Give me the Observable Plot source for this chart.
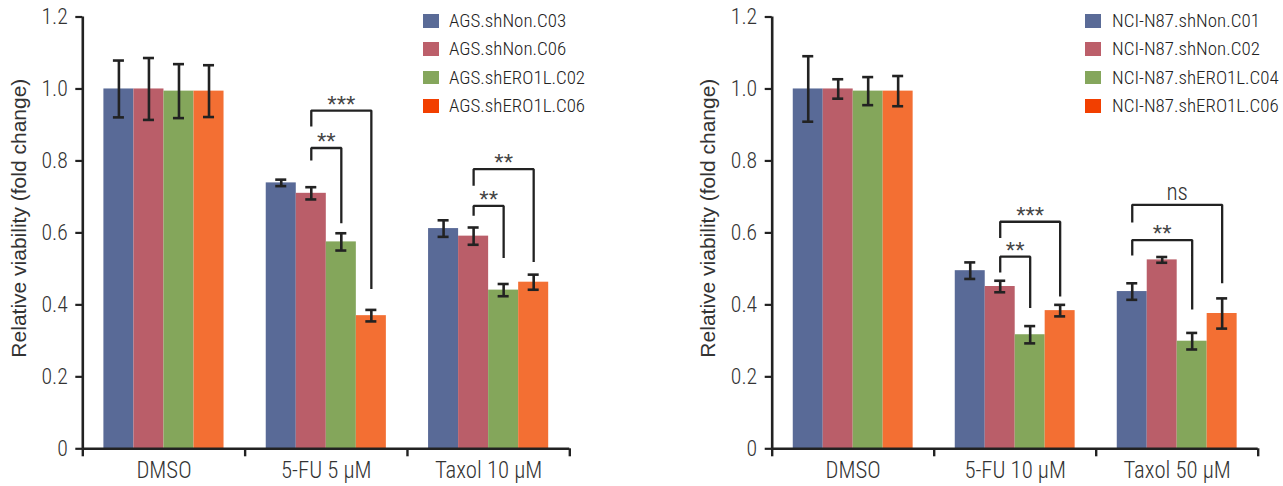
<!DOCTYPE html>
<html>
<head>
<meta charset="utf-8">
<script src="https://cdn.jsdelivr.net/npm/d3@7"></script>
<script src="https://cdn.jsdelivr.net/npm/@observablehq/plot@0.6"></script>
<style>
  html, body { margin: 0; padding: 0; background: #fff; }
  #row { display: flex; width: 1283px; height: 486px; }
  .panel { position: relative; height: 486px; }
  .legend { position: absolute; color: #222; }
  .legend .item { position: absolute; left: 0; height: 14px; white-space: nowrap; }
  .legend .sw { position: absolute; left: 0; top: 0; width: 16px; height: 13.5px; }
  .legend .lb { position: absolute; left: 26.5px; top: 7px; line-height: 1; white-space: nowrap; transform-origin: 0 50%; }
</style>
</head>
<body>
<div id="row"></div>
<script>
// ---------- data ----------
const categoriesA = ["DMSO", "5-FU 5 μM", "Taxol 10 μM"];
const seriesA = ["AGS.shNon.C03", "AGS.shNon.C06", "AGS.shERO1L.C02", "AGS.shERO1L.C06"];
const valuesA = [
  [1.000, 1.000, 0.994, 0.994],
  [0.739, 0.710, 0.575, 0.370],
  [0.612, 0.591, 0.441, 0.463]
];
const errorsA = [
  [0.079, 0.086, 0.075, 0.072],
  [0.009, 0.017, 0.024, 0.016],
  [0.023, 0.024, 0.017, 0.021]
];
// brackets: category index, from series, to series, top, left end, right end, label
const bracketCatA   = [1, 1, 2, 2];
const bracketFromA  = [1, 1, 1, 1];
const bracketToA    = [2, 3, 2, 3];
const bracketTopA   = [0.836, 0.940, 0.675, 0.777];
const bracketLeftA  = [0.801, 0.896, 0.648, 0.731];
const bracketRightA = [0.627, 0.444, 0.530, 0.519];
const bracketLabelA = ["**", "***", "**", "**"];

const categoriesB = ["DMSO", "5-FU 10 μM", "Taxol 50 μM"];
const seriesB = ["NCI-N87.shNon.C01", "NCI-N87.shNon.C02", "NCI-N87.shERO1L.C04", "NCI-N87.shERO1L.C06"];
const valuesB = [
  [1.000, 1.000, 0.994, 0.994],
  [0.495, 0.451, 0.317, 0.384],
  [0.437, 0.525, 0.299, 0.376]
];
const errorsB = [
  [0.091, 0.027, 0.039, 0.042],
  [0.023, 0.016, 0.024, 0.016],
  [0.023, 0.008, 0.023, 0.042]
];
const bracketCatB   = [1, 1, 2, 2];
const bracketFromB  = [1, 1, 0, 0];
const bracketToB    = [2, 3, 2, 3];
const bracketTopB   = [0.534, 0.631, 0.580, 0.678];
const bracketLeftB  = [0.490, 0.586, 0.537, 0.629];
const bracketRightB = [0.391, 0.423, 0.387, 0.460];
const bracketLabelB = ["**", "***", "**", "ns"];

const yTicks = [0, 0.2, 0.4, 0.6, 0.8, 1.0, 1.2];
const yTitle = "Relative viability (fold change)";

// ---------- styles ----------
const barColors = ["#596A97", "#BA5E69", "#84A65B", "#F36F33"];
const legendColors = ["#5A6B97", "#BC5F6A", "#85A65C", "#F23F00"];
const ink = "#222";

// pick a narrow-ish font that is installed, then compute horizontal compression
const ctx = document.createElement("canvas").getContext("2d");
function measure(text, size, fam, weight = 300) { ctx.font = `${weight} ${size}px ${fam}`; return ctx.measureText(text).width; }
function installed(name) {
  const s = "AGS.shNon.C03 DMSO 0.8 WMwm";
  return measure(s, 40, `"${name}", monospace`) !== measure(s, 40, "monospace");
}
const narrowName = ["Roboto Condensed", "Liberation Sans Narrow", "Arial Narrow", "Roboto", "Liberation Sans"].find(installed) || "sans-serif";
const narrow = `"${narrowName}", sans-serif`;
const clampK = k => Math.max(0.6, Math.min(1.1, k));
const kAxis = clampK(54 / measure("DMSO", 23, narrow));
const kLegend = clampK(114 / measure("AGS.shNon.C03", 18, narrow));

function condense(svg, k) {
  svg.querySelectorAll("text").forEach(t => {
    const g = t.closest("[font-family]");
    if (!g || !g.getAttribute("font-family").includes(narrowName)) return;
    t.setAttribute("transform", (t.getAttribute("transform") || "") + ` scale(${k},1)`);
  });
}

function makeChart(cfg) {
  const {categories, series, values, errors, bc, bf, bt, btop, bl, br, blab, width, marginLeft, marginRight} = cfg;
  const nS = series.length;
  const barW = 0.185;
  const off = (1 - nS * barW) / 2;
  const cap = 0.034;
  const xc = (ci, si) => ci + off + (si + 0.5) * barW;

  const bars = categories.flatMap((c, i) => series.map((s, j) => ({
    cat: c, s, v: values[i][j], e: errors[i][j],
    x1: i + off + j * barW, x2: i + off + (j + 1) * barW, xc: xc(i, j)
  })));

  const brackets = bc.map((ci, k) => ({
    id: k, label: blab[k], top: btop[k],
    xl: xc(ci, bf[k]), xr: xc(ci, bt[k]), yl: bl[k], yr: br[k]
  }));
  const bracketPts = brackets.flatMap(b => [
    {id: b.id, x: b.xl, y: b.yl},
    {id: b.id, x: b.xl, y: b.top},
    {id: b.id, x: b.xr, y: b.top},
    {id: b.id, x: b.xr, y: b.yr}
  ]);

  const svg = Plot.plot({
    width, height: 486,
    marginTop: 16.5, marginBottom: 37.7, marginLeft, marginRight,
    x: {domain: [0, categories.length], axis: null},
    y: {domain: [0, 1.2], axis: null},
    color: {domain: series, range: barColors},
    style: {background: "transparent", overflow: "visible"},
    marks: [
      Plot.rect(bars, {x1: "x1", x2: "x2", y1: 0, y2: "v", fill: "s"}),
      Plot.ruleX(bars, {x: "xc", y1: d => d.v - d.e, y2: d => d.v + d.e, stroke: ink, strokeWidth: 2.6}),
      Plot.ruleY(bars, {y: d => d.v + d.e, x1: d => d.xc - cap, x2: d => d.xc + cap, stroke: ink, strokeWidth: 2.6}),
      Plot.ruleY(bars, {y: d => d.v - d.e, x1: d => d.xc - cap, x2: d => d.xc + cap, stroke: ink, strokeWidth: 2.6}),
      // significance brackets
      Plot.line(bracketPts, {x: "x", y: "y", z: "id", stroke: ink, strokeWidth: 2.3, strokeLinejoin: "miter", strokeLinecap: "butt"}),
      Plot.text(brackets.filter(b => b.label !== "ns"), {
        x: d => (d.xl + d.xr) / 2, y: "top", text: "label", lineAnchor: "bottom", dy: 2,
        fontSize: 24, fontFamily: "Liberation Sans, Arial, sans-serif", fill: "#444"
      }),
      Plot.text(brackets.filter(b => b.label === "ns"), {
        x: d => (d.xl + d.xr) / 2, y: "top", text: "label", lineAnchor: "bottom", dy: -5,
        fontSize: 24, fontFamily: narrow, fontWeight: 300, fill: "#333"
      }),
      // axes
      Plot.axisY(yTicks, {
        tickSize: 7, tickPadding: 8, label: null,
        tickFormat: d => d === 0 ? "0" : d.toFixed(1),
        stroke: ink, strokeWidth: 2.2, fill: "#333",
        fontSize: 22.5, fontFamily: narrow, fontWeight: 300
      }),
      Plot.axisX(d3.range(categories.length + 1), {
        tickSize: 8, tickFormat: () => "", label: null, stroke: ink, strokeWidth: 2.4
      }),
      Plot.axisX(categories.map((c, i) => i + 0.5), {
        tickSize: 0, tickPadding: 13, label: null,
        tickFormat: d => categories[Math.floor(d)],
        fill: "#333", fontSize: 23.5, fontFamily: narrow, fontWeight: 300
      }),
      Plot.ruleX([0], {y1: 0, y2: 1.2, stroke: ink, strokeWidth: 2.6}),
      Plot.ruleY([0], {x1: 0, x2: categories.length, stroke: ink, strokeWidth: 2.6}),
      Plot.text([{t: yTitle, y: 0.641}], {
        text: "t", y: "y", frameAnchor: "left", textAnchor: "middle", dx: -64, rotate: -90,
        fontSize: 21, fontFamily: "Liberation Sans, Arial, sans-serif", fill: "#333"
      })
    ]
  });
  condense(svg, kAxis);
  return svg;
}

function makeLegend(series, left, top) {
  const lg = document.createElement("div");
  lg.className = "legend";
  lg.style.left = left + "px";
  lg.style.top = top + "px";
  lg.style.fontFamily = narrow;
  lg.style.fontWeight = "300";
  lg.style.fontSize = "18.5px";
  series.forEach((s, i) => {
    const it = document.createElement("div");
    it.className = "item";
    it.style.top = (i * 28.4) + "px";
    const sw = document.createElement("div");
    sw.className = "sw";
    sw.style.background = legendColors[i];
    const lb = document.createElement("div");
    lb.className = "lb";
    lb.style.transform = `translateY(-50%) scale(${kLegend},1)`;
    lb.textContent = s;
    it.appendChild(sw); it.appendChild(lb);
    lg.appendChild(it);
  });
  return lg;
}

const row = document.getElementById("row");

const pA = document.createElement("div");
pA.className = "panel"; pA.style.width = "641px";
pA.appendChild(makeChart({
  categories: categoriesA, series: seriesA, values: valuesA, errors: errorsA,
  bc: bracketCatA, bf: bracketFromA, bt: bracketToA, btop: bracketTopA, bl: bracketLeftA, br: bracketRightA, blab: bracketLabelA,
  width: 641, marginLeft: 82.3, marginRight: 641 - 569.3
}));
pA.appendChild(makeLegend(seriesA, 422.7, 14));
row.appendChild(pA);

const pB = document.createElement("div");
pB.className = "panel"; pB.style.width = "642px";
pB.appendChild(makeChart({
  categories: categoriesB, series: seriesB, values: valuesB, errors: errorsB,
  bc: bracketCatB, bf: bracketFromB, bt: bracketToB, btop: bracketTopB, bl: bracketLeftB, br: bracketRightB, blab: bracketLabelB,
  width: 642, marginLeft: 771.7 - 641, marginRight: 642 - (1257.7 - 641)
}));
pB.appendChild(makeLegend(seriesB, 1085 - 641, 14));
row.appendChild(pB);
</script>
</body>
</html>
